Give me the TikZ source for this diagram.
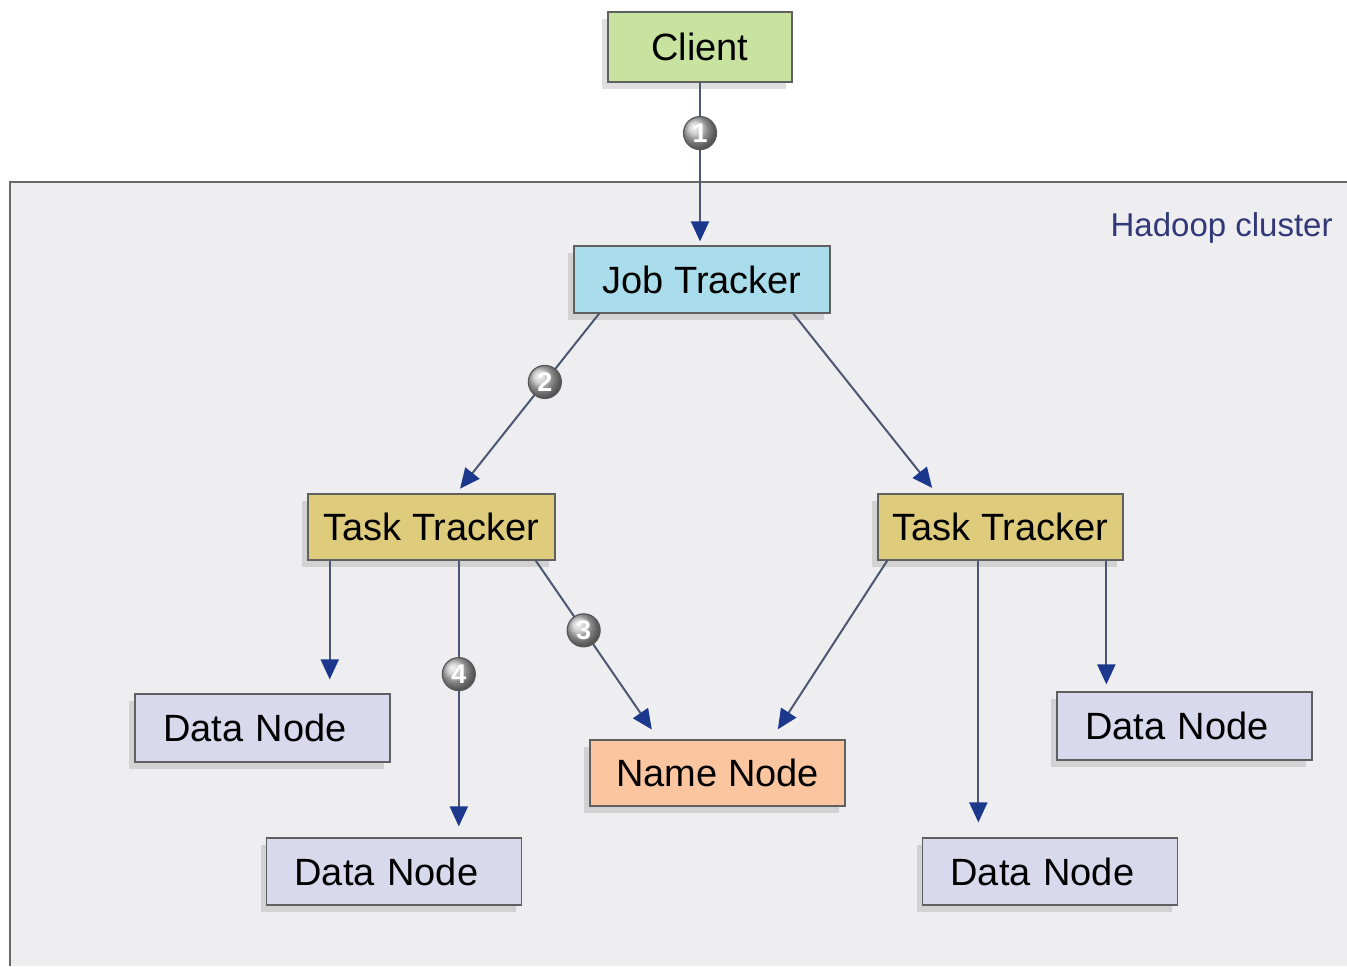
\documentclass[tikz,border=0pt]{standalone}
\usepackage{fontspec}
\setmainfont{Liberation Sans}
\usepackage{tikz}
\usetikzlibrary{arrows.meta, positioning, calc, shadows}
\usepackage{xcolor}
\definecolor{clientgreen}{RGB}{200, 226, 160}
\definecolor{jobblue}{RGB}{170, 221, 235}
\definecolor{taskkhaki}{RGB}{222, 203, 124}
\definecolor{datalilac}{RGB}{217, 217, 237}
\definecolor{namepeach}{RGB}{251, 197, 160}
\definecolor{clustergray}{RGB}{238, 238, 240}
\definecolor{clusterline}{RGB}{105, 105, 105}
\definecolor{linkgray}{RGB}{78, 86, 115}
\definecolor{tipblue}{RGB}{28, 56, 140}
\definecolor{labelblue}{RGB}{50, 56, 120}
\tikzstyle{hbox} = [rectangle, draw=gray!75!black, line width=0.6pt, minimum height=33.5pt,
                    text centered, font=\fontsize{19}{22}\selectfont,
                    drop shadow={shadow xshift=-3pt, shadow yshift=-3.5pt, opacity=0.25}]
\tikzstyle{datanode} = [hbox, fill=datalilac, text width=99.5pt, inner xsep=14pt, align=left]
\tikzstyle{badge} = [circle, draw=gray!70!black, line width=0.6pt, ball color=gray!50, text=white, inner sep=0pt,
                     minimum size=16.5pt, font=\fontsize{13.5}{13.5}\selectfont\bfseries]
\tikzstyle{arrow} = [-{Triangle[length=10pt, width=9pt, color=tipblue]}, line width=1pt, linkgray, shorten >=5pt]

\begin{document}
\begin{tikzpicture}[x=0.5pt, y=-0.5pt]

% Frame
\useasboundingbox (0, 0) rectangle (1347, 966);
\fill[white] (0, 0) rectangle (1347, 966);

% Cluster
\fill[clustergray] (10, 182) rectangle (1347, 966);
\draw[clusterline, line width=1.2pt] (1347, 182) -- (10, 182) -- (10, 966);
\node[font=\fontsize{16.5}{18}\selectfont, labelblue, anchor=east, inner sep=0pt] (cluster) at (1333, 228) {Hadoop cluster};

% Components
\node[hbox, fill=clientgreen, minimum width=92pt, minimum height=35pt] (client) at (700, 47) {Client};
\node[hbox, fill=jobblue, minimum width=128pt] (jt) at (702, 279.5) {Job Tracker};
\node[hbox, fill=taskkhaki, minimum width=123.5pt, minimum height=33pt] (ttl) at (431.5, 527) {Task Tracker};
\node[hbox, fill=taskkhaki, minimum width=122.5pt, minimum height=33pt] (ttr) at (1000.5, 527) {Task Tracker};
\node[hbox, fill=namepeach, minimum width=127.5pt, minimum height=33pt] (nn) at (717.5, 773) {Name Node};
\node[datanode, minimum height=34pt] (dnl1) at (262.5, 728) {Data Node};
\node[datanode] (dnl2) at (394, 871.5) {Data Node};
\node[datanode] (dnr2) at (1050, 871.5) {Data Node};
\node[datanode, minimum height=34pt] (dnr1) at (1184.5, 726) {Data Node};

% Anchors on the trackers
\coordinate (jl) at ($(jt.south west)!0.10!(jt.south east)$);
\coordinate (jr) at ($(jt.south west)!0.855!(jt.south east)$);
\coordinate (l1) at ($(ttl.south west)!0.09!(ttl.south east)$);
\coordinate (l4) at ($(ttl.south west)!0.61!(ttl.south east)$);
\coordinate (l3) at ($(ttl.south west)!0.92!(ttl.south east)$);
\coordinate (r1) at ($(ttr.south west)!0.04!(ttr.south east)$);
\coordinate (r2) at ($(ttr.south west)!0.41!(ttr.south east)$);
\coordinate (r3) at ($(ttr.south west)!0.93!(ttr.south east)$);

% Arrows
\draw[arrow, shorten >=2pt] (client) -- (client |- jt.north) node[badge, pos=0.31] {1};
\draw[arrow, shorten >=3pt] (jl) -- ($(ttl.north west)!0.60!(ttl.north east)$) node[badge, pos=0.38] {2};
\draw[arrow, shorten >=3.5pt] (jr) -- ($(ttr.north west)!0.24!(ttr.north east)$);
\draw[arrow, shorten >=7pt] (l1) -- (l1 |- dnl1.north);
\draw[arrow, shorten >=5.5pt] (l4) -- (l4 |- dnl2.north) node[badge, pos=0.41] {4};
\draw[arrow, shorten >=6pt] (l3) -- ($(nn.north west)!0.27!(nn.north east)$) node[badge, pos=0.39] {3};
\draw[arrow, shorten >=6pt] (r1) -- ($(nn.north west)!0.71!(nn.north east)$);
\draw[arrow, shorten >=7.5pt] (r2) -- (r2 |- dnr2.north);
\draw[arrow, shorten >=3.5pt] (r3) -- (r3 |- dnr1.north);

\end{tikzpicture}
\end{document}
